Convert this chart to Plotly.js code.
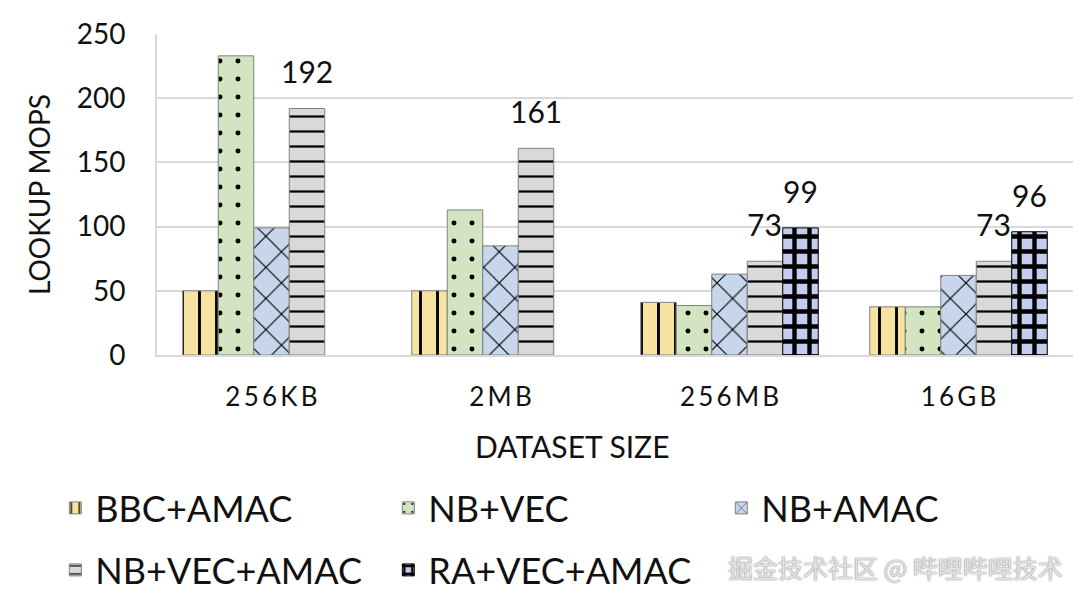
<!DOCTYPE html>
<html>
<head>
<meta charset="utf-8">
<script src="https://cdn.plot.ly/plotly-3.0.1.min.js"></script>
<style>html,body{margin:0;padding:0;background:#fff;}#chart{width:1080px;height:600px;}</style>
</head>
<body>
<div id="chart"></div>
<script>
// ---- data ----
const categories = ["256KB", "2MB", "256MB", "16GB"];
const seriesNames = ["BBC+AMAC", "NB+VEC", "NB+AMAC", "NB+VEC+AMAC", "RA+VEC+AMAC"];
const bbcAmac    = [50, 50, 41, 37.5];
const nbVec      = [233, 113, 38.5, 37.5];
const nbAmac     = [99, 85, 63, 62];
const nbVecAmac  = [192, 161, 73, 73];
const raVecAmac  = [null, null, 99, 96];
const yTicks     = [0, 50, 100, 150, 200, 250];
const labeledSeries = ["NB+VEC+AMAC", "RA+VEC+AMAC"];
const xTitle = "DATASET SIZE";
const yTitle = "LOOKUP MOPS";
const watermark = "掘金技术社区 @ 哔哩哔哩技术";

const values = [bbcAmac, nbVec, nbAmac, nbVecAmac, raVecAmac];

// ---- styles ----
const FONT = "Lato, 'Open Sans', 'Noto Sans', sans-serif";
const fills = ["#f7e3a1", "#d3e5c0", "#c8d6ec", "#d9d9d9", "#c3cdee"];
const patterns = [
  {shape: "|", size: 17, solidity: 0.17},
  {shape: ".", size: 18, solidity: 0.06},
  {shape: "x", size: 22, solidity: 0.1},
  {shape: "-", size: 15, solidity: 0.15},
  {shape: "+", size: 15, solidity: 0.5}
];
const legendOf = ["legend", "legend", "legend", "legend2", "legend2"];

const traces = seriesNames.map((name, i) => ({
  type: "bar",
  name: name,
  x: categories,
  y: values[i],
  legend: legendOf[i],
  marker: {
    color: fills[i],
    line: {color: i === 4 ? "#000000" : "#808080", width: 1},
    pattern: Object.assign({fgcolor: "#000000", fgopacity: 1, bgcolor: fills[i], fillmode: "overlay"}, patterns[i])
  },
  hoverinfo: "x+y+name"
}));

const M = {l: 157, r: 7, t: 34, b: 245, autoexpand: false};
const W = 1080, H = 600;
const plotW = W - M.l - M.r;
const bargap = 0.225;
const barPx = (plotW / categories.length) * (1 - bargap) / seriesNames.length;

const annotations = [];
seriesNames.forEach((name, i) => {
  if (labeledSeries.indexOf(name) < 0) return;
  values[i].forEach((v, j) => {
    if (v === null) return;
    annotations.push({
      x: categories[j], y: v, xref: "x", yref: "y",
      text: String(v), showarrow: false,
      xshift: (i - (seriesNames.length - 1) / 2) * barPx,
      yshift: 37, yanchor: "middle",
      font: {family: FONT, size: 30, color: "#111"}
    });
  });
});
annotations.push({
  xref: "paper", yref: "paper", x: 0.454, y: -0.284,
  text: xTitle, showarrow: false, xanchor: "center", yanchor: "middle",
  font: {family: FONT, size: 30, color: "#111"}
});
annotations.push({
  xref: "paper", yref: "paper", x: 0.806, y: -0.66,
  text: watermark, showarrow: false, xanchor: "center", yanchor: "middle",
  font: {family: "'Noto Sans CJK SC', sans-serif", size: 25, color: "#e4e4e4", shadow: "0px 0px 1.5px #555"}
});

const legendBase = {
  orientation: "h", xanchor: "left", yanchor: "middle",
  entrywidth: 288, entrywidthmode: "pixels",
  font: {family: FONT, size: 36, color: "#111"},
  bgcolor: "rgba(0,0,0,0)", traceorder: "normal"
};

const layout = {
  width: W, height: H,
  margin: M,
  paper_bgcolor: "#ffffff", plot_bgcolor: "#ffffff",
  barmode: "group", bargap: bargap, bargroupgap: 0,
  font: {family: FONT, color: "#111"},
  showlegend: true,
  legend: Object.assign({}, legendBase, {x: -0.111, y: -0.4766}),
  legend2: Object.assign({}, legendBase, {x: -0.111, y: -0.6698}),
  xaxis: {
    type: "category",
    tickvals: categories,
    ticktext: categories.map(c => c.split("").join("\u2009")),
    tickfont: {family: FONT, size: 26, color: "#111"},
    ticks: "", ticklabelstandoff: 18,
    showline: true, linecolor: "#d9d9d9", linewidth: 2,
    showgrid: false, zeroline: false
  },
  yaxis: {
    range: [0, 250],
    tickvals: yTicks,
    tickfont: {family: FONT, size: 28, color: "#111"},
    ticks: "", ticklabelstandoff: 24,
    showline: true, linecolor: "#d9d9d9", linewidth: 2,
    showgrid: true, gridcolor: "#d9d9d9", gridwidth: 2,
    zeroline: false,
    title: {text: yTitle, font: {family: FONT, size: 28, color: "#111"}, standoff: 18}
  },
  annotations: annotations
};

Plotly.newPlot("chart", traces, layout, {displayModeBar: false, staticPlot: true});
</script>
</body>
</html>
